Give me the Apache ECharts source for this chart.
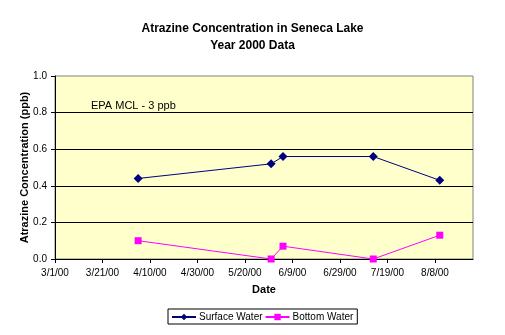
<!DOCTYPE html>
<html>
<head>
<meta charset="utf-8">
<script src="https://cdn.jsdelivr.net/npm/echarts@6/dist/echarts.min.js"></script>
<style>
  html, body { margin: 0; padding: 0; background: #fff; }
  #chart { width: 505px; height: 335px; }
</style>
</head>
<body>
<div id="chart"></div>
<script>
// Sampling dates (2000) and atrazine concentrations in ppb
const sampleDates = ['2000-04-05', '2000-05-31', '2000-06-05', '2000-07-13', '2000-08-10'];
const surfaceWater = [0.44, 0.52, 0.56, 0.56, 0.43];
const bottomWater = [0.10, 0.00, 0.07, 0.00, 0.13];

// Date axis: days counted from 3/1/00, one tick every 20 days
const axisStart = '2000-03-01';
const axisEndDays = 176;
const dayStep = 20;
const tickDays = [0, 20, 40, 60, 80, 100, 120, 140, 160];

const DAY = 86400000;
const startMs = Date.parse(axisStart + 'T00:00:00Z');
const toDays = s => Math.round((Date.parse(s + 'T00:00:00Z') - startMs) / DAY);
const fmtDate = d => {
  const dt = new Date(startMs + d * DAY);
  const yy = String(dt.getUTCFullYear() % 100).padStart(2, '0');
  return (dt.getUTCMonth() + 1) + '/' + dt.getUTCDate() + '/' + yy;
};

const surfacePts = sampleDates.map((s, i) => [toDays(s), surfaceWater[i]]);
const bottomPts = sampleDates.map((s, i) => [toDays(s), bottomWater[i]]);

const FONT = 'Liberation Sans, Arial, sans-serif';

const chart = echarts.init(document.getElementById('chart'));
chart.setOption({
  animation: false,
  backgroundColor: '#ffffff',
  title: {
    text: 'Atrazine Concentration in Seneca Lake\nYear 2000 Data',
    left: 'center',
    top: 15,
    textStyle: { fontFamily: FONT, fontSize: 12, fontWeight: 'bold', color: '#000', lineHeight: 17 }
  },
  grid: {
    left: 55, right: 32, top: 76, bottom: 76,
    show: true,
    backgroundColor: '#FFFFCC',
    borderColor: '#808080',
    borderWidth: 1
  },
  legend: {
    left: 168, top: 309,
    orient: 'horizontal',
    padding: [3, 4, 2, 3],
    borderColor: '#000',
    borderWidth: 1,
    itemWidth: 24,
    itemHeight: 8,
    itemGap: 2,
    textStyle: { fontFamily: FONT, fontSize: 10, color: '#000', padding: [0, 0, 0, -2] },
    data: ['Surface Water', 'Bottom Water']
  },
  xAxis: {
    type: 'value',
    min: 0,
    max: axisEndDays,
    interval: dayStep,
    name: 'Date',
    nameLocation: 'middle',
    nameGap: 25,
    nameTextStyle: { fontFamily: FONT, fontSize: 11, fontWeight: 'bold', color: '#000' },
    axisLine: { show: true, onZero: false, lineStyle: { color: '#000', width: 1 } },
    axisTick: { show: true, length: 4, customValues: tickDays, lineStyle: { color: '#000' } },
    axisLabel: {
      customValues: tickDays,
      formatter: v => fmtDate(v),
      fontFamily: FONT, fontSize: 10, color: '#000', margin: 9
    },
    splitLine: { show: false }
  },
  yAxis: {
    type: 'value',
    min: 0,
    max: 1,
    interval: 0.2,
    name: 'Atrazine Concentration (ppb)',
    nameLocation: 'middle',
    nameGap: 25,
    nameMoveOverlap: false,
    nameTextStyle: { fontFamily: FONT, fontSize: 11, fontWeight: 'bold', color: '#000' },
    axisLine: { show: true, lineStyle: { color: '#000', width: 1 } },
    axisTick: { show: true, length: 4, lineStyle: { color: '#000' } },
    axisLabel: {
      formatter: v => v.toFixed(1),
      fontFamily: FONT, fontSize: 10, color: '#000', margin: 8
    },
    splitLine: { show: true, showMinLine: false, showMaxLine: false, lineStyle: { color: '#000', width: 1 } }
  },
  graphic: [{
    type: 'text',
    left: 91,
    top: 100,
    style: { text: 'EPA MCL - 3 ppb', fontFamily: FONT, fontSize: 11, fill: '#000' }
  }],
  series: [
    {
      name: 'Surface Water',
      type: 'line',
      data: surfacePts,
      symbol: 'diamond',
      symbolSize: 9,
      lineStyle: { color: '#000080', width: 1 },
      itemStyle: { color: '#000080' }
    },
    {
      name: 'Bottom Water',
      type: 'line',
      data: bottomPts,
      symbol: 'rect',
      symbolSize: 7,
      lineStyle: { color: '#FF00FF', width: 1 },
      itemStyle: { color: '#FF00FF' }
    }
  ]
});
</script>
</body>
</html>
